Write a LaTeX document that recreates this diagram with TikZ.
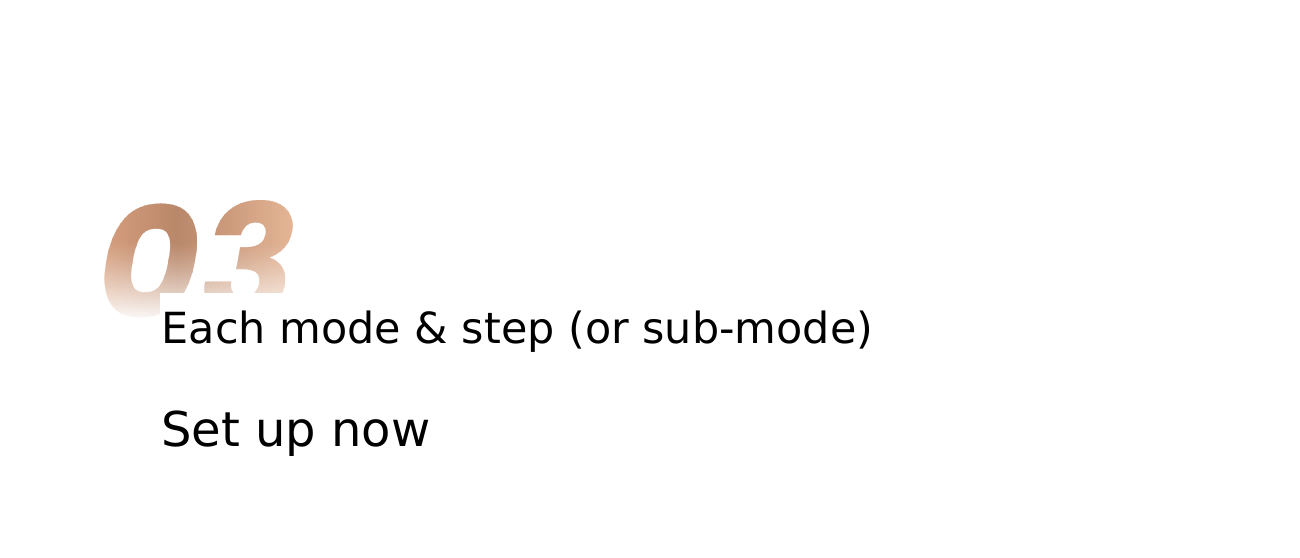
\documentclass[tikz,border=0pt]{standalone}
\usepackage{fontspec}
\setmainfont{DejaVu Sans}
\newfontfamily\numfont{Poppins}
\definecolor{cuL}{HTML}{DEA684}
\definecolor{cuM}{HTML}{B98769}
\definecolor{cuR}{HTML}{EDBE9F}
\tikzset{
  numstyle/.style={font=\numfont\bfseries\itshape\fontsize{158}{158}\selectfont, anchor=base west, inner sep=0pt},
  lineone/.style={font=\fontsize{42.9}{50}\selectfont, anchor=base west, inner sep=0pt, text=black},
  linetwo/.style={font=\fontsize{48}{56}\selectfont, anchor=base west, inner sep=0pt, text=black}
}
\begin{document}
\begin{tikzpicture}[x=1pt,y=-1pt]
\useasboundingbox[fill=white] (0,0) rectangle (1300,557);
% big number, horizontal colour gradient by strips
\foreach \i in {0,...,59}{
  \pgfmathsetmacro\xa{80+4*\i}
  \ifnum\i<24
    \pgfmathtruncatemacro\pp{100-100*\i/24}
    \colorlet{stripc}{cuL!\pp!cuM}
  \else
    \pgfmathtruncatemacro\pp{100-100*(\i-24)/35}
    \colorlet{stripc}{cuM!\pp!cuR}
  \fi
  \begin{scope}
    \clip (\xa,150) rectangle (\xa+4.4,345);
    \node[numstyle, text=stripc] (num\i) at (97,318) {03};
  \end{scope}
}
% fade to white at the bottom
\foreach \j in {0,...,41}{
  \pgfmathsetmacro\ya{240+2*\j}
  \pgfmathsetmacro\op{(\j/41)^1.2}
  \fill[white, fill opacity=\op] (60,\ya) rectangle (340,\ya+2);
}
\fill[white] (60,324) rectangle (340,380);
\fill[white] (160,293) rectangle (340,380);
\node[lineone] (l1) at (161.5,343.5) {Each mode \& step (or sub-mode)};
\node[linetwo] (l2) at (161,446) {Set up now};
\end{tikzpicture}
\end{document}
